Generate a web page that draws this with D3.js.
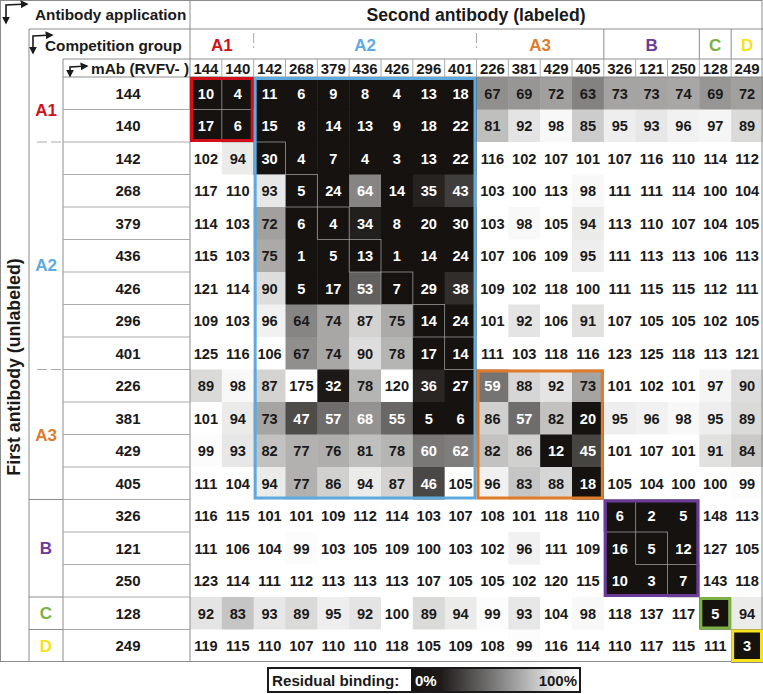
<!DOCTYPE html>
<html><head><meta charset="utf-8">
<script src="https://cdn.jsdelivr.net/npm/d3@7"></script>
<style>
html,body{margin:0;padding:0;background:#fff;}
svg text{font-family:"Liberation Sans",Arial,sans-serif;font-weight:bold;}
</style></head>
<body><svg id="chart" width="763" height="694"></svg>
<script>
// ---------- data ----------
const mAbs = ["144","140","142","268","379","436","426","296","401","226","381","429","405","326","121","250","128","249"];
const groupNames  = ["A1","A2","A3","B","C","D"];
const groupStart  = [0, 2, 9, 13, 16, 17];
const groupSize   = [2, 7, 4, 3, 1, 1];
const groupColors = ["#d0111b","#5eaadf","#e07b2b","#6a3b98","#7bb243","#f6e21c"];
// residual binding (%) : rows = first antibody (unlabeled), cols = second antibody (labeled)
const residual = [
 [10,4,11,6,9,8,4,13,18,67,69,72,63,73,73,74,69,72],
 [17,6,15,8,14,13,9,18,22,81,92,98,85,95,93,96,97,89],
 [102,94,30,4,7,4,3,13,22,116,102,107,101,107,116,110,114,112],
 [117,110,93,5,24,64,14,35,43,103,100,113,98,111,111,114,100,104],
 [114,103,72,6,4,34,8,20,30,103,98,105,94,113,110,107,104,105],
 [115,103,75,1,5,13,1,14,24,107,106,109,95,111,113,113,106,113],
 [121,114,90,5,17,53,7,29,38,109,102,118,100,111,115,115,112,111],
 [109,103,96,64,74,87,75,14,24,101,92,106,91,107,105,105,102,105],
 [125,116,106,67,74,90,78,17,14,111,103,118,116,123,125,118,113,121],
 [89,98,87,175,32,78,120,36,27,59,88,92,73,101,102,101,97,90],
 [101,94,73,47,57,68,55,5,6,86,57,82,20,95,96,98,95,89],
 [99,93,82,77,76,81,78,60,62,82,86,12,45,101,107,101,91,84],
 [111,104,94,77,86,94,87,46,105,96,83,88,18,105,104,100,100,99],
 [116,115,101,101,109,112,114,103,107,108,101,118,110,6,2,5,148,113],
 [111,106,104,99,103,105,109,100,103,102,96,111,109,16,5,12,127,105],
 [123,114,111,112,113,113,113,107,105,105,102,120,115,10,3,7,143,118],
 [92,83,93,89,95,92,100,89,94,99,93,104,98,118,137,117,5,94],
 [119,115,110,107,110,110,118,105,109,108,99,116,114,110,117,115,111,3]
];
// cells whose label is printed in white despite a lighter shade: [row, col]
const whiteLabelExtra = [[3,5],[10,5]];
const whiteLabelMax = 62;
const innerOutlineGroups = ["A1","A2","B"];
const legendTitle = "Residual binding:";
const legendLow = "0%", legendHigh = "100%";

// ---------- layout ----------
const svg = d3.select("#chart");
const gridLeft = 190, gridRight = 763, gridTop = 77, gridBottom = 662;
const x = d3.scaleBand().domain(d3.range(mAbs.length)).range([gridLeft, gridRight]);
const y = d3.scaleBand().domain(d3.range(mAbs.length)).range([gridTop, gridBottom]);
const bw = x.bandwidth(), bh = y.bandwidth();
const shade = d3.scaleLinear().domain([30,100]).range(["#15120f","#ffffff"]).clamp(true);
const lineCol = "#8c8c8c";

// cells
const cells = [];
residual.forEach((row,r)=>row.forEach((v,c)=>cells.push({r,c,v})));
const isWhite = d => d.v <= whiteLabelMax || whiteLabelExtra.some(e=>e[0]===d.r&&e[1]===d.c);

svg.append("g").selectAll("rect").data(cells).join("rect")
  .attr("x",d=>x(d.c)).attr("y",d=>y(d.r))
  .attr("width",bw+0.5).attr("height",bh+0.5)
  .attr("fill",d=>shade(d.v));

// inner thin outlines on diagonal cells of some groups
const inner = svg.append("g");
groupNames.forEach((g,i)=>{
  if(!innerOutlineGroups.includes(g)) return;
  for(let k=groupStart[i]; k<groupStart[i]+groupSize[i]; k++){
    inner.append("rect").attr("x",x(k)).attr("y",y(k)).attr("width",bw).attr("height",bh)
      .attr("fill","none").attr("stroke","#9a9a9a").attr("stroke-width",0.8);
  }
});

svg.append("g").selectAll("text").data(cells).join("text")
  .attr("x",d=>x(d.c)+bw/2).attr("y",d=>y(d.r)+bh/2+5.5)
  .attr("text-anchor","middle").attr("font-size",14.6)
  .attr("fill",d=>isWhite(d)?"#ffffff":"#1a1a1a")
  .text(d=>d.v);

// ---------- frame & table lines ----------
const L = svg.append("g").attr("stroke",lineCol).attr("stroke-width",1).attr("fill","none");
const line=(x1,y1,x2,y2,dash)=>{const l=L.append("line").attr("x1",x1).attr("y1",y1).attr("x2",x2).attr("y2",y2); if(dash) l.attr("stroke-dasharray",dash); return l;};
L.append("rect").attr("x",0.5).attr("y",0.5).attr("width",761.5).attr("height",661);
line(gridLeft,0,gridLeft,662);
line(29,29,763,29);
line(29,29,29,662);
line(63,59,763,59);
line(63,59,63,662);
line(63,gridTop,763,gridTop);
// mAb header column separators
for(let k=1;k<mAbs.length;k++) line(x(k),59,x(k),gridTop).attr("stroke","#aaa");
// row label separators
for(let k=1;k<mAbs.length;k++) line(63,y(k),gridLeft,y(k)).attr("stroke","#aaa");
// group separators
groupNames.forEach((g,i)=>{
  if(i===0) return;
  const s = groupStart[i];
  const soft = groupNames[i].startsWith("A");
  if(soft){
    line(x(s),33,x(s),48,"10,3").attr("stroke","#aaa");
    line(37,y(s),62,y(s),"10,4").attr("stroke","#aaa");
  } else {
    line(x(s),29,x(s),59);
    line(29,y(s),63,y(s));
  }
});

// ---------- group outlines ----------
groupNames.forEach((g,i)=>{
  const s=groupStart[i], n=groupSize[i];
  svg.append("rect")
    .attr("x",x(s)+1.5).attr("y",y(0)+ (i<2?1.5:0) + (i>=2? (y(s)-y(0)) + 1.5 : 0))
    .attr("width",n*bw-3)
    .attr("height", i===1 ? (groupStart[2]+groupSize[2])*bh-3 : n*bh-3)
    .attr("fill","none").attr("stroke",groupColors[i]).attr("stroke-width",3);
});

// ---------- header texts ----------
const T=(tx,ty,str,size,anchor,fill)=>svg.append("text").attr("x",tx).attr("y",ty)
  .attr("font-size",size).attr("text-anchor",anchor||"start").attr("fill",fill||"#1a1a1a").text(str);
T(35,20,"Antibody application",15.3);
T(476,21,"Second antibody (labeled)",17.6,"middle");
T(45,51,"Competition group",15.3);
T(91,74,"mAb (RVFV- )",15.4);
mAbs.forEach((m,k)=>{
  T(x(k)+bw/2,74,m,15,"middle");
  T(128,y(k)+bh/2+5.5,m,15,"middle");
});
groupNames.forEach((g,i)=>{
  const s=groupStart[i], n=groupSize[i];
  T(x(s)+n*bw/2,51,g,17,"middle",groupColors[i]);
  T(46,y(s)+n*bh/2+6 + (g==="A2"?9:0),g,17,"middle",groupColors[i]);
});
svg.append("text").attr("transform","translate(20,367) rotate(-90)")
  .attr("text-anchor","middle").attr("font-size",17.8).attr("fill","#1a1a1a")
  .text("First antibody (unlabeled)");

// ---------- corner arrow icons ----------
const defs = svg.append("defs");
defs.append("marker").attr("id","ah").attr("viewBox","0 0 10 10").attr("refX",8).attr("refY",5)
  .attr("markerWidth",5).attr("markerHeight",5).attr("orient","auto-start-reverse")
  .append("path").attr("d","M0,0 L10,5 L0,10 z").attr("fill","#1a1a1a");
const arrow=(d)=>svg.append("path").attr("d",d).attr("fill","none").attr("stroke","#1a1a1a")
  .attr("stroke-width",1.6).attr("marker-start","url(#ah)").attr("marker-end","url(#ah)");
arrow("M6,23 L6,5 L27,4");
arrow("M33,53 L33,36 L52,35");
arrow("M70,76 L70,67 L87,66");

// ---------- legend ----------
const grad = defs.append("linearGradient").attr("id","lg");
[[0,"#15120f"],[0.18,"#1e1b18"],[0.55,"#8a8a8a"],[0.85,"#e6e6e6"],[1,"#ffffff"]]
  .forEach(s=>grad.append("stop").attr("offset",s[0]).attr("stop-color",s[1]));
svg.append("rect").attr("x",268).attr("y",668).attr("width",312).attr("height",24)
  .attr("fill","#fff").attr("stroke","#1a1a1a").attr("stroke-width",2);
svg.append("rect").attr("x",411).attr("y",669).attr("width",168).attr("height",22).attr("fill","url(#lg)");
T(272,686,legendTitle,15.2);
T(415,686,legendLow,15,"start","#ffffff");
T(577,686,legendHigh,15,"end","#1a1a1a");
</script></body></html>
